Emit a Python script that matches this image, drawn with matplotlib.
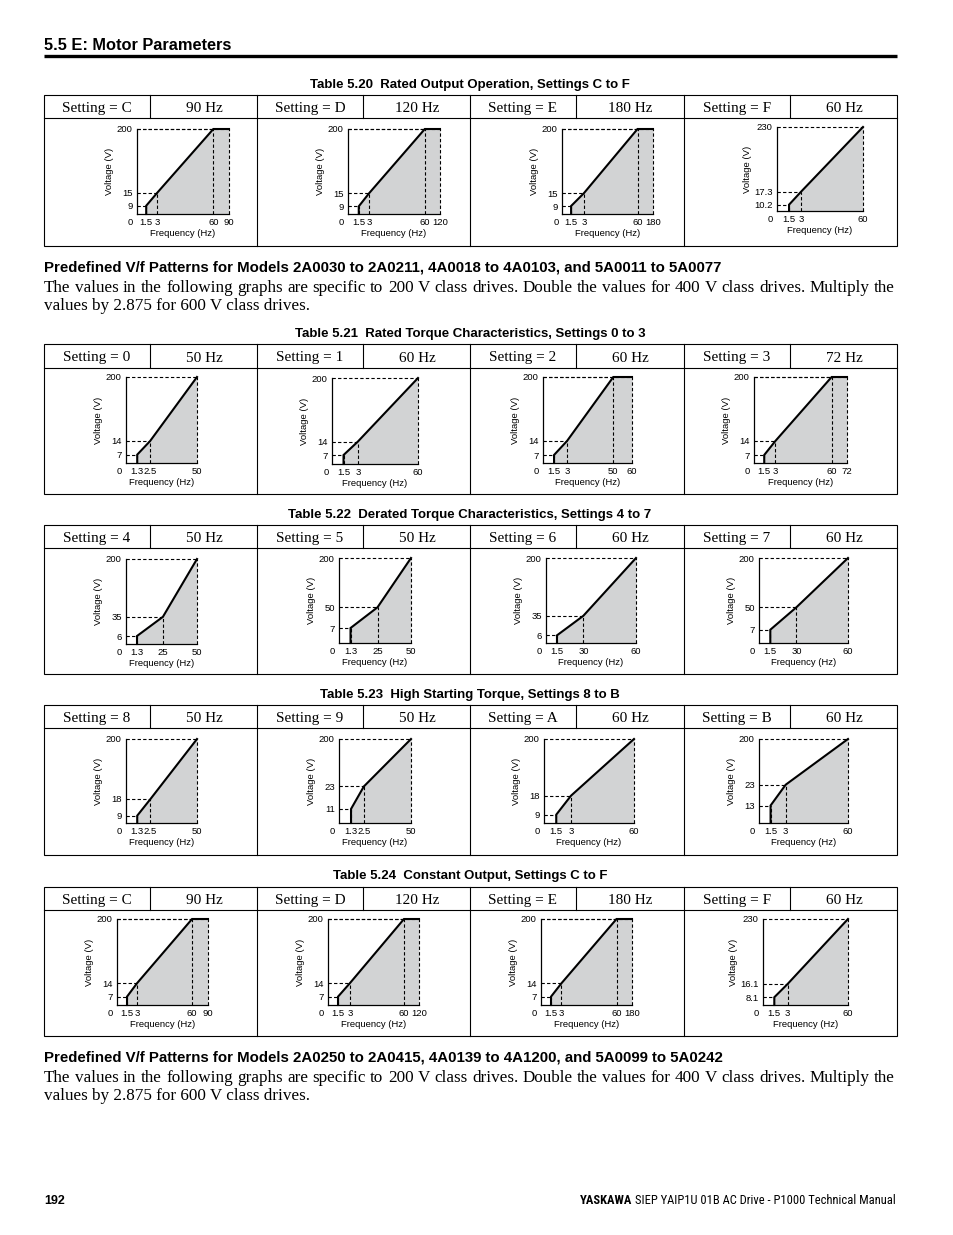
import numpy as np
import matplotlib.pyplot as plt
from matplotlib.patches import Rectangle
from matplotlib import font_manager

# === Données : motifs V/f (fréquence en Hz, tension en V) ===
settings_520 = ["C", "D", "E", "F"]
base_520 = ["90 Hz", "120 Hz", "180 Hz", "60 Hz"]
freq_520 = [[1.5, 3, 60, 90], [1.5, 3, 60, 120], [1.5, 3, 60, 180], [1.5, 3, 60]]
volt_520 = [[9, 15, 200, 200], [9, 15, 200, 200], [9, 15, 200, 200], [10.2, 17.3, 230]]

settings_521 = ["0", "1", "2", "3"]
base_521 = ["50 Hz", "60 Hz", "60 Hz", "72 Hz"]
freq_521 = [[1.3, 2.5, 50], [1.5, 3, 60], [1.5, 3, 50, 60], [1.5, 3, 60, 72]]
volt_521 = [[7, 14, 200], [7, 14, 200], [7, 14, 200, 200], [7, 14, 200, 200]]

settings_522 = ["4", "5", "6", "7"]
base_522 = ["50 Hz", "50 Hz", "60 Hz", "60 Hz"]
freq_522 = [[1.3, 25, 50], [1.3, 25, 50], [1.5, 30, 60], [1.5, 30, 60]]
volt_522 = [[6, 35, 200], [7, 50, 200], [6, 35, 200], [7, 50, 200]]

settings_523 = ["8", "9", "A", "B"]
base_523 = ["50 Hz", "50 Hz", "60 Hz", "60 Hz"]
freq_523 = [[1.3, 2.5, 50], [1.3, 2.5, 50], [1.5, 3, 60], [1.5, 3, 60]]
volt_523 = [[9, 18, 200], [11, 23, 200], [9, 18, 200], [13, 23, 200]]

settings_524 = ["C", "D", "E", "F"]
base_524 = ["90 Hz", "120 Hz", "180 Hz", "60 Hz"]
freq_524 = [[1.5, 3, 60, 90], [1.5, 3, 60, 120], [1.5, 3, 60, 180], [1.5, 3, 60]]
volt_524 = [[7, 14, 200, 200], [7, 14, 200, 200], [7, 14, 200, 200], [8.1, 16.1, 230]]

# === Mise en page (pixels) : boîtes des axes et échelles schématiques ===
box_520 = [(137, 129, 229, 214), (348, 129, 440, 214), (562, 129, 653, 214), (777, 127, 863, 211)]
xf_520 = [[0.10, 0.22, 0.83, 1], [0.117, 0.23, 0.835, 1], [0.10, 0.24, 0.83, 1], [0.14, 0.28, 1]]
yf_520 = [[0.097, 0.25, 1], [0.09, 0.245, 1], [0.094, 0.244, 1], [0.075, 0.23, 1]]

box_521 = [(126, 377, 197, 463), (332, 378, 418, 464), (543, 377, 632, 463), (754, 377, 847, 463)]
xf_521 = [[0.158, 0.34, 1], [0.134, 0.30, 1], [0.124, 0.27, 0.79, 1], [0.11, 0.23, 0.835, 1]]
yf_521 = [[0.097, 0.256, 1], [0.104, 0.26, 1], [0.093, 0.256, 1], [0.093, 0.256, 1]]

box_522 = [(126, 559, 197, 644), (339, 558, 411, 643), (546, 558, 636, 643), (759, 558, 848, 643)]
xf_522 = [[0.155, 0.52, 1], [0.16, 0.535, 1], [0.122, 0.415, 1], [0.127, 0.42, 1]]
yf_522 = [[0.094, 0.32, 1], [0.176, 0.42, 1], [0.09, 0.32, 1], [0.156, 0.42, 1]]

box_523 = [(126, 739, 197, 823), (339, 739, 411, 823), (544, 739, 634, 823), (759, 739, 848, 823)]
xf_523 = [[0.158, 0.345, 1], [0.167, 0.345, 1], [0.136, 0.30, 1], [0.13, 0.30, 1]]
yf_523 = [[0.087, 0.286, 1], [0.167, 0.435, 1], [0.099, 0.325, 1], [0.208, 0.456, 1]]

box_524 = [(117, 919, 208, 1005), (328, 919, 419, 1005), (541, 919, 632, 1005), (763, 919, 848, 1005)]
xf_524 = [[0.11, 0.22, 0.825, 1], [0.11, 0.24, 0.835, 1], [0.11, 0.225, 0.83, 1], [0.133, 0.29, 1]]
yf_524 = [[0.097, 0.253, 1], [0.097, 0.253, 1], [0.097, 0.253, 1], [0.09, 0.245, 1]]

W, H = 954, 1235
SANS = "Liberation Sans"
SERIF = "Liberation Serif"
GRAY = "#d2d3d4"

installed = {f.name for f in font_manager.fontManager.ttflist}
NARROW = next((n for n in ["Liberation Sans Narrow", "Arial Narrow", "Roboto Condensed",
                           "Archivo Narrow", "PT Sans Narrow"] if n in installed), SANS)

fig = plt.figure(figsize=(W / 100, H / 100), dpi=100)
bg = fig.add_axes([0, 0, 1, 1])
bg.set_xlim(0, W)
bg.set_ylim(H, 0)
bg.axis("off")

cols = [44, 257, 470, 684, 897]


def vf_chart(box, freq, volt, xfrac, yfrac):
    l, t, r, b = box
    ax = fig.add_axes([l / W, 1 - b / H, (r - l) / W, (b - t) / H])
    xs = sorted(set(freq))
    ys = sorted(set(volt))
    xp, xq = [0] + xs, [0] + list(xfrac)
    yp, yq = [0] + ys, [0] + list(yfrac)
    ax.set_xscale("function", functions=(lambda v: np.interp(v, xp, xq),
                                         lambda u: np.interp(u, xq, xp)))
    ax.set_yscale("function", functions=(lambda v: np.interp(v, yp, yq),
                                         lambda u: np.interp(u, yq, yp)))
    ax.set_xlim(0, max(xs))
    ax.set_ylim(0, max(ys))
    ax.patch.set_alpha(0)

    fx = [freq[0]] + list(freq)
    fy = [0] + list(volt)
    ax.fill_between(fx, fy, 0, color=GRAY, lw=0, zorder=1)
    for f, v in zip(freq, volt):
        ax.plot([0, f], [v, v], color="black", lw=0.8, ls=(0, (3, 2)), clip_on=False, zorder=2)
        ax.plot([f, f], [0, v], color="black", lw=0.8, ls=(0, (3, 2)), clip_on=False, zorder=2)
    ax.plot(fx, fy, color="black", lw=1.5, clip_on=False, zorder=3, solid_joinstyle="miter")

    for s in ["top", "right"]:
        ax.spines[s].set_visible(False)
    for s in ["left", "bottom"]:
        ax.spines[s].set_linewidth(0.9)
    ax.set_xticks(xs, [f"{v:g}" for v in xs], fontsize=6.8, family=SANS)
    ax.set_yticks(ys, [f"{v:g}" for v in ys], fontsize=6.8, family=SANS)
    ax.tick_params(length=0, pad=3)
    ax.minorticks_off()
    ax.annotate("0", xy=(0, 0), xycoords="axes fraction", xytext=(-4.5, -3),
                textcoords="offset points", ha="center", va="top", fontsize=6.8, family=SANS)
    ax.set_xlabel("Frequency (Hz)", fontsize=6.8, family=SANS, labelpad=1)
    ax.set_ylabel("Voltage (V)", fontsize=6.8, family=SANS, labelpad=2)
    return ax


def table(title, ty, top, mid, bot, settings, bases, freqs, volts, boxes, xfs, yfs):
    bg.text(470, ty, title, ha="center", va="center", fontsize=9.5, weight="bold", family=SANS)
    bg.add_patch(Rectangle((44, top), 853, bot - top, fill=False, lw=0.8, ec="black"))
    bg.plot([44, 897], [mid, mid], color="black", lw=0.8)
    for i in range(4):
        x0 = cols[i]
        if i > 0:
            bg.plot([x0, x0], [top, bot], color="black", lw=0.8)
        bg.plot([x0 + 106, x0 + 106], [top, mid], color="black", lw=0.8)
        bg.text(x0 + 53, (top + mid) / 2 + 2, f"Setting = {settings[i]}", ha="center", va="center",
                fontsize=11, family=SERIF)
        bg.text(x0 + 160, (top + mid) / 2 + 2, bases[i], ha="center", va="center",
                fontsize=11, family=SERIF)
        vf_chart(boxes[i], freqs[i], volts[i], xfs[i], yfs[i])


def justified(line, x0, x1, y, **kw):
    r = fig.canvas.get_renderer()
    words = line.split()
    objs = [bg.text(x0, y, w, ha="left", va="center", **kw) for w in words]
    widths = [o.get_window_extent(r).width for o in objs]
    gap = (x1 - x0 - sum(widths)) / (len(words) - 1)
    x = x0
    for o, w in zip(objs, widths):
        o.set_x(x)
        x += w + gap


# === En-tête de page ===
bg.text(44, 45, "5.5 E: Motor Parameters", ha="left", va="center", fontsize=11.8, weight="bold", family=SANS)
bg.plot([44, 897], [55.5, 55.5], color="black", lw=2.4, solid_capstyle="butt")

table("Table 5.20  Rated Output Operation, Settings C to F", 85, 95, 118, 246,
      settings_520, base_520, freq_520, volt_520, box_520, xf_520, yf_520)

para1 = "The values in the following graphs are specific to 200 V class drives. Double the values for 400 V class drives. Multiply the"
para2 = "values by 2.875 for 600 V class drives."

bg.text(44, 268, "Predefined V/f Patterns for Models 2A0030 to 2A0211, 4A0018 to 4A0103, and 5A0011 to 5A0077",
        ha="left", va="center", fontsize=10.8, weight="bold", family=SANS)
justified(para1, 44, 895, 288, fontsize=12.3, family=SERIF)
bg.text(44, 306, para2, ha="left", va="center", fontsize=12.3, family=SERIF)

table("Table 5.21  Rated Torque Characteristics, Settings 0 to 3", 334, 344, 368, 494,
      settings_521, base_521, freq_521, volt_521, box_521, xf_521, yf_521)
table("Table 5.22  Derated Torque Characteristics, Settings 4 to 7", 515, 525, 548, 674,
      settings_522, base_522, freq_522, volt_522, box_522, xf_522, yf_522)
table("Table 5.23  High Starting Torque, Settings 8 to B", 695, 705, 728, 855,
      settings_523, base_523, freq_523, volt_523, box_523, xf_523, yf_523)
table("Table 5.24  Constant Output, Settings C to F", 876, 887, 910, 1036,
      settings_524, base_524, freq_524, volt_524, box_524, xf_524, yf_524)

bg.text(44, 1058, "Predefined V/f Patterns for Models 2A0250 to 2A0415, 4A0139 to 4A1200, and 5A0099 to 5A0242",
        ha="left", va="center", fontsize=10.8, weight="bold", family=SANS)
justified(para1, 44, 895, 1078, fontsize=12.3, family=SERIF)
bg.text(44, 1096, para2, ha="left", va="center", fontsize=12.3, family=SERIF)

# === Pied de page ===
bg.text(44, 1201, "192", ha="left", va="center", fontsize=9, weight="bold", family=SANS)
foot = bg.text(896, 1201, "SIEP YAIP1U 01B AC Drive - P1000 Technical Manual", ha="right", va="center",
               fontsize=9, family=NARROW)
fw = foot.get_window_extent(fig.canvas.get_renderer()).width
bg.text(896 - fw - 3, 1201, "YASKAWA", ha="right", va="center", fontsize=9, weight="bold", family=NARROW)

fig.savefig("out.png", dpi=100)
